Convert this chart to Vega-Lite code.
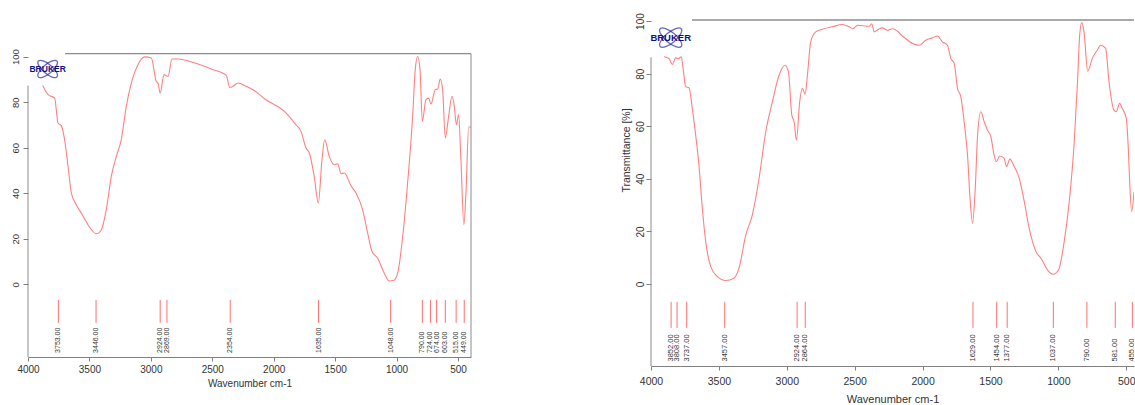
{
  "$schema": "https://vega.github.io/schema/vega-lite/v6.json",
  "background": "white",
  "padding": {"left": 10, "top": 12, "right": 0, "bottom": 0},
  "spacing": 147,
  "config": {"font": "Liberation Sans", "view": {"stroke": null}, "axis": {"grid": false}},
  "datasets": {
    "leftSpectrum": [
      {"wn": 3880, "t": 87.3}, {"wn": 3837, "t": 83.3}, {"wn": 3783, "t": 81.8}, {"wn": 3756, "t": 70.9},
      {"wn": 3729, "t": 69.7}, {"wn": 3702, "t": 63.5}, {"wn": 3674, "t": 51.8}, {"wn": 3647, "t": 40.1},
      {"wn": 3607, "t": 35.0}, {"wn": 3566, "t": 31.3}, {"wn": 3512, "t": 26.2}, {"wn": 3444, "t": 22.2},
      {"wn": 3403, "t": 24.0}, {"wn": 3363, "t": 32.7}, {"wn": 3322, "t": 47.4}, {"wn": 3281, "t": 56.2},
      {"wn": 3241, "t": 63.5}, {"wn": 3200, "t": 78.2}, {"wn": 3159, "t": 88.4}, {"wn": 3105, "t": 96.5},
      {"wn": 3050, "t": 99.9}, {"wn": 2996, "t": 99.4}, {"wn": 2956, "t": 89.1}, {"wn": 2942, "t": 88.4},
      {"wn": 2924, "t": 84.0}, {"wn": 2893, "t": 92.1}, {"wn": 2874, "t": 91.6}, {"wn": 2860, "t": 91.3},
      {"wn": 2828, "t": 99.0}, {"wn": 2779, "t": 99.0}, {"wn": 2643, "t": 97.2}, {"wn": 2508, "t": 94.6},
      {"wn": 2386, "t": 91.8}, {"wn": 2358, "t": 86.5}, {"wn": 2331, "t": 87.0}, {"wn": 2291, "t": 88.4},
      {"wn": 2226, "t": 87.0}, {"wn": 2169, "t": 85.5}, {"wn": 2063, "t": 81.1}, {"wn": 1900, "t": 75.3},
      {"wn": 1819, "t": 70.1}, {"wn": 1778, "t": 67.2}, {"wn": 1737, "t": 59.9}, {"wn": 1710, "t": 57.7},
      {"wn": 1670, "t": 47.4}, {"wn": 1637, "t": 35.7}, {"wn": 1607, "t": 54.7}, {"wn": 1585, "t": 63.5},
      {"wn": 1548, "t": 56.2}, {"wn": 1507, "t": 52.5}, {"wn": 1479, "t": 53.0}, {"wn": 1452, "t": 48.6},
      {"wn": 1425, "t": 48.9}, {"wn": 1371, "t": 43.3}, {"wn": 1330, "t": 40.1}, {"wn": 1276, "t": 32.7},
      {"wn": 1235, "t": 22.5}, {"wn": 1200, "t": 14.4}, {"wn": 1154, "t": 11.5}, {"wn": 1100, "t": 4.9},
      {"wn": 1059, "t": 1.5}, {"wn": 1024, "t": 1.7}, {"wn": 991, "t": 4.9}, {"wn": 950, "t": 21.0},
      {"wn": 910, "t": 44.5}, {"wn": 869, "t": 73.8}, {"wn": 848, "t": 94.3}, {"wn": 828, "t": 100.1},
      {"wn": 809, "t": 94.3}, {"wn": 790, "t": 71.6}, {"wn": 761, "t": 81.1}, {"wn": 739, "t": 81.8},
      {"wn": 720, "t": 79.2}, {"wn": 685, "t": 85.5}, {"wn": 665, "t": 85.8}, {"wn": 644, "t": 90.2},
      {"wn": 625, "t": 85.5}, {"wn": 603, "t": 64.3}, {"wn": 576, "t": 73.8}, {"wn": 549, "t": 82.6},
      {"wn": 530, "t": 78.2}, {"wn": 513, "t": 70.1}, {"wn": 495, "t": 74.5}, {"wn": 476, "t": 54.7},
      {"wn": 452, "t": 26.2}, {"wn": 435, "t": 40.1}, {"wn": 413, "t": 69.1}, {"wn": 394, "t": 69.1}
    ],
    "rightSpectrum": [
      {"wn": 3904, "t": 86.4}, {"wn": 3867, "t": 85.7}, {"wn": 3843, "t": 83.5}, {"wn": 3818, "t": 86.0},
      {"wn": 3799, "t": 85.7}, {"wn": 3777, "t": 86.4}, {"wn": 3762, "t": 81.3}, {"wn": 3745, "t": 75.0},
      {"wn": 3720, "t": 74.6}, {"wn": 3696, "t": 66.8}, {"wn": 3671, "t": 56.6}, {"wn": 3647, "t": 45.2},
      {"wn": 3622, "t": 28.8}, {"wn": 3597, "t": 16.1}, {"wn": 3560, "t": 6.6}, {"wn": 3511, "t": 2.8},
      {"wn": 3450, "t": 1.3}, {"wn": 3389, "t": 2.2}, {"wn": 3352, "t": 6.0}, {"wn": 3302, "t": 18.6},
      {"wn": 3254, "t": 26.2}, {"wn": 3204, "t": 40.2}, {"wn": 3155, "t": 57.9}, {"wn": 3106, "t": 69.3},
      {"wn": 3057, "t": 79.4}, {"wn": 3013, "t": 83.2}, {"wn": 2988, "t": 80.7}, {"wn": 2963, "t": 64.2},
      {"wn": 2946, "t": 61.7}, {"wn": 2929, "t": 54.7}, {"wn": 2905, "t": 69.3}, {"wn": 2885, "t": 74.4},
      {"wn": 2865, "t": 72.1}, {"wn": 2848, "t": 79.4}, {"wn": 2824, "t": 92.1}, {"wn": 2787, "t": 95.9},
      {"wn": 2738, "t": 96.9}, {"wn": 2664, "t": 97.8}, {"wn": 2590, "t": 98.7}, {"wn": 2541, "t": 97.8},
      {"wn": 2512, "t": 97.1}, {"wn": 2480, "t": 98.4}, {"wn": 2394, "t": 98.0}, {"wn": 2374, "t": 99.0},
      {"wn": 2357, "t": 95.9}, {"wn": 2325, "t": 96.9}, {"wn": 2296, "t": 97.4}, {"wn": 2259, "t": 96.5},
      {"wn": 2222, "t": 97.1}, {"wn": 2185, "t": 96.1}, {"wn": 2148, "t": 94.3}, {"wn": 2074, "t": 91.5},
      {"wn": 2025, "t": 90.8}, {"wn": 1976, "t": 92.7}, {"wn": 1927, "t": 93.6}, {"wn": 1890, "t": 94.3},
      {"wn": 1854, "t": 92.1}, {"wn": 1817, "t": 90.8}, {"wn": 1792, "t": 85.8}, {"wn": 1767, "t": 83.9},
      {"wn": 1743, "t": 74.4}, {"wn": 1718, "t": 71.2}, {"wn": 1694, "t": 61.7}, {"wn": 1669, "t": 49.0},
      {"wn": 1649, "t": 31.3}, {"wn": 1632, "t": 23.1}, {"wn": 1612, "t": 36.4}, {"wn": 1595, "t": 56.6},
      {"wn": 1571, "t": 65.5}, {"wn": 1546, "t": 61.7}, {"wn": 1522, "t": 58.5}, {"wn": 1497, "t": 56.0},
      {"wn": 1473, "t": 49.0}, {"wn": 1456, "t": 46.5}, {"wn": 1432, "t": 48.7}, {"wn": 1399, "t": 47.8},
      {"wn": 1382, "t": 44.6}, {"wn": 1357, "t": 47.5}, {"wn": 1325, "t": 44.6}, {"wn": 1288, "t": 40.2},
      {"wn": 1251, "t": 31.3}, {"wn": 1215, "t": 21.2}, {"wn": 1165, "t": 12.3}, {"wn": 1128, "t": 9.8},
      {"wn": 1080, "t": 5.3}, {"wn": 1038, "t": 3.7}, {"wn": 999, "t": 5.3}, {"wn": 957, "t": 16.1},
      {"wn": 920, "t": 31.3}, {"wn": 883, "t": 54.1}, {"wn": 859, "t": 76.9}, {"wn": 843, "t": 94.6},
      {"wn": 828, "t": 99.4}, {"wn": 811, "t": 95.9}, {"wn": 784, "t": 80.9}, {"wn": 750, "t": 85.8},
      {"wn": 714, "t": 88.9}, {"wn": 689, "t": 90.8}, {"wn": 652, "t": 89.6}, {"wn": 627, "t": 76.9},
      {"wn": 591, "t": 66.1}, {"wn": 574, "t": 65.5}, {"wn": 549, "t": 68.7}, {"wn": 530, "t": 66.8},
      {"wn": 500, "t": 63.0}, {"wn": 485, "t": 51.6}, {"wn": 475, "t": 38.9}, {"wn": 460, "t": 27.5},
      {"wn": 443, "t": 35.1}
    ],
    "leftPeaks": [
      {"wn": 3753, "label": "3753.00"}, {"wn": 3446, "label": "3446.00"}, {"wn": 2924, "label": "2924.00"},
      {"wn": 2869, "label": "2869.00"}, {"wn": 2354, "label": "2354.00"}, {"wn": 1635, "label": "1635.00"},
      {"wn": 1048, "label": "1048.00"}, {"wn": 790, "label": "790.00"}, {"wn": 724, "label": "724.00"},
      {"wn": 674, "label": "674.00"}, {"wn": 603, "label": "603.00"}, {"wn": 515, "label": "515.00"},
      {"wn": 449, "label": "449.00"}
    ],
    "rightPeaks": [
      {"wn": 3852, "label": "3852.00"}, {"wn": 3808, "label": "3808.00"}, {"wn": 3737, "label": "3737.00"},
      {"wn": 3457, "label": "3457.00"}, {"wn": 2924, "label": "2924.00"}, {"wn": 2864, "label": "2864.00"},
      {"wn": 1629, "label": "1629.00"}, {"wn": 1454, "label": "1454.00"}, {"wn": 1377, "label": "1377.00"},
      {"wn": 1037, "label": "1037.00"}, {"wn": 790, "label": "790.00"}, {"wn": 581, "label": "581.00"},
      {"wn": 455, "label": "455.00"}
    ]
  },
  "hconcat": [
    {
      "width": 443,
      "height": 337,
      "data": {"values": [{"logo": "BRUKER"}]},
      "layer": [
        {
          "data": {"name": "leftSpectrum"},
          "mark": {"type": "line", "color": "#ff8080", "strokeWidth": 1.1, "interpolate": "monotone"},
          "encoding": {
            "x": {"field": "wn", "type": "quantitative", "title": "Wavenumber cm-1",
              "scale": {"domain": [4000, 394], "nice": false, "zero": false},
              "axis": {"values": [4000, 3500, 3000, 2500, 2000, 1500, 1000, 500], "format": "d",
                "domainColor": "#808080", "tickColor": "#808080", "tickSize": 4, "labelFontSize": 10,
                "labelColor": "#333333", "labelPadding": 3, "labelFlush": false, "titleFontSize": 10,
                "titleFontWeight": "normal", "titleColor": "#333333", "titlePadding": 4}},
            "y": {"field": "t", "type": "quantitative", "title": null,
              "scale": {"domain": [-31.9, 116.1], "nice": false, "zero": false},
              "axis": {"values": [0, 20, 40, 60, 80, 100], "domain": false, "tickColor": "#808080",
                "tickSize": 5, "labelAngle": 270, "labelFontSize": 9.5, "labelColor": "#333333",
                "labelPadding": 3, "labelFlush": false}},
            "order": {"field": "wn", "sort": "descending"}
          }
        },
        {
          "data": {"name": "leftPeaks"},
          "mark": {"type": "rule", "color": "#ff7070", "strokeWidth": 1},
          "encoding": {
            "x": {"field": "wn", "type": "quantitative", "title": "Wavenumber cm-1"},
            "y": {"datum": -6.8, "title": null},
            "y2": {"datum": -16.9}
          }
        },
        {
          "data": {"name": "leftPeaks"},
          "mark": {"type": "text", "angle": 270, "align": "left", "baseline": "middle", "fontSize": 7, "color": "#333333"},
          "encoding": {
            "x": {"field": "wn", "type": "quantitative", "title": "Wavenumber cm-1"},
            "y": {"datum": -30.1, "title": null},
            "text": {"field": "label"}
          }
        },
        {
          "mark": {"type": "rule", "color": "#8c8c8c", "strokeWidth": 1},
          "encoding": {"x": {"datum": 4000, "title": "Wavenumber cm-1"}, "y": {"datum": -31.9, "title": null}, "y2": {"datum": 87.3}}
        },
        {
          "mark": {"type": "rule", "color": "#8c8c8c", "strokeWidth": 1.3},
          "encoding": {"x": {"datum": 3699, "title": "Wavenumber cm-1"}, "x2": {"datum": 394}, "y": {"datum": 101.3, "title": null}}
        },
        {
          "mark": {"type": "rule", "color": "#8c8c8c", "strokeWidth": 1},
          "encoding": {"x": {"datum": 394, "title": "Wavenumber cm-1"}, "y": {"datum": -31.9, "title": null}, "y2": {"datum": 101.3}}
        },
        {
          "mark": {"type": "point", "shape": "M-1,0A1,0.38,0,1,1,1,0A1,0.38,0,1,1,-1,0Z", "filled": false, "stroke": "#2a2aa8", "strokeWidth": 1.3, "size": 600, "angle": 40},
          "encoding": {"x": {"datum": 3840, "title": "Wavenumber cm-1"}, "y": {"datum": 94.6, "title": null}}
        },
        {
          "mark": {"type": "point", "shape": "M-1,0A1,0.38,0,1,1,1,0A1,0.38,0,1,1,-1,0Z", "filled": false, "stroke": "#2a2aa8", "strokeWidth": 1.3, "size": 600, "angle": -40},
          "encoding": {"x": {"datum": 3840, "title": "Wavenumber cm-1"}, "y": {"datum": 94.6, "title": null}}
        },
        {
          "mark": {"type": "text", "fontSize": 8.5, "fontWeight": "bold", "color": "#10107f", "align": "center", "baseline": "middle"},
          "encoding": {"x": {"datum": 3840, "title": "Wavenumber cm-1"}, "y": {"datum": 94.6, "title": null}, "text": {"field": "logo"}}
        }
      ]
    },
    {
      "width": 483,
      "height": 346,
      "data": {"values": [{"logo": "BRUKER"}]},
      "layer": [
        {
          "data": {"name": "rightSpectrum"},
          "mark": {"type": "line", "color": "#ff8080", "strokeWidth": 1.1, "interpolate": "monotone", "clip": true},
          "encoding": {
            "x": {"field": "wn", "type": "quantitative", "title": "Wavenumber cm-1",
              "scale": {"domain": [4000, 443], "nice": false, "zero": false},
              "axis": {"values": [4000, 3500, 3000, 2500, 2000, 1500, 1000, 500], "format": "d",
                "domainColor": "#808080", "tickColor": "#808080", "tickSize": 4, "labelFontSize": 10.5,
                "labelColor": "#333333", "labelPadding": 6, "labelFlush": false, "titleFontSize": 11,
                "titleFontWeight": "normal", "titleColor": "#333333", "titlePadding": 7}},
            "y": {"field": "t", "type": "quantitative", "title": "Transmittance [%]",
              "scale": {"domain": [-31.2, 100.4], "nice": false, "zero": false},
              "axis": {"values": [0, 20, 40, 60, 80, 100], "domain": false, "tickColor": "#808080",
                "tickSize": 5, "labelAngle": 270, "labelFontSize": 10, "labelColor": "#333333",
                "labelPadding": 1, "labelFlush": false, "titleFontSize": 10.5, "titleFontWeight": "normal",
                "titleColor": "#333333", "titlePadding": 4, "titleY": 130}},
            "order": {"field": "wn", "sort": "descending"}
          }
        },
        {
          "data": {"name": "rightPeaks"},
          "mark": {"type": "rule", "color": "#ff7070", "strokeWidth": 1},
          "encoding": {
            "x": {"field": "wn", "type": "quantitative", "title": "Wavenumber cm-1"},
            "y": {"datum": -6.8, "title": "Transmittance [%]"},
            "y2": {"datum": -16.7}
          }
        },
        {
          "data": {"name": "rightPeaks"},
          "mark": {"type": "text", "angle": 270, "align": "left", "baseline": "middle", "fontSize": 7.5, "color": "#333333", "clip": true},
          "encoding": {
            "x": {"field": "wn", "type": "quantitative", "title": "Wavenumber cm-1"},
            "y": {"datum": -29.5, "title": "Transmittance [%]"},
            "text": {"field": "label"}
          }
        },
        {
          "mark": {"type": "rule", "color": "#8c8c8c", "strokeWidth": 1},
          "encoding": {"x": {"datum": 4000, "title": "Wavenumber cm-1"}, "y": {"datum": -31.2, "title": "Transmittance [%]"}, "y2": {"datum": 86.2}}
        },
        {
          "mark": {"type": "rule", "color": "#8c8c8c", "strokeWidth": 1.3},
          "encoding": {"x": {"datum": 3698, "title": "Wavenumber cm-1"}, "x2": {"datum": 443}, "y": {"datum": 100.4, "title": "Transmittance [%]"}}
        },
        {
          "mark": {"type": "point", "shape": "M-1,0A1,0.38,0,1,1,1,0A1,0.38,0,1,1,-1,0Z", "filled": false, "stroke": "#2a2aa8", "strokeWidth": 1.3, "size": 760, "angle": 40},
          "encoding": {"x": {"datum": 3855, "title": "Wavenumber cm-1"}, "y": {"datum": 93.7, "title": "Transmittance [%]"}}
        },
        {
          "mark": {"type": "point", "shape": "M-1,0A1,0.38,0,1,1,1,0A1,0.38,0,1,1,-1,0Z", "filled": false, "stroke": "#2a2aa8", "strokeWidth": 1.3, "size": 760, "angle": -40},
          "encoding": {"x": {"datum": 3855, "title": "Wavenumber cm-1"}, "y": {"datum": 93.7, "title": "Transmittance [%]"}}
        },
        {
          "mark": {"type": "text", "fontSize": 9.5, "fontWeight": "bold", "color": "#10107f", "align": "center", "baseline": "middle"},
          "encoding": {"x": {"datum": 3855, "title": "Wavenumber cm-1"}, "y": {"datum": 93.7, "title": "Transmittance [%]"}, "text": {"field": "logo"}}
        }
      ]
    }
  ]
}
